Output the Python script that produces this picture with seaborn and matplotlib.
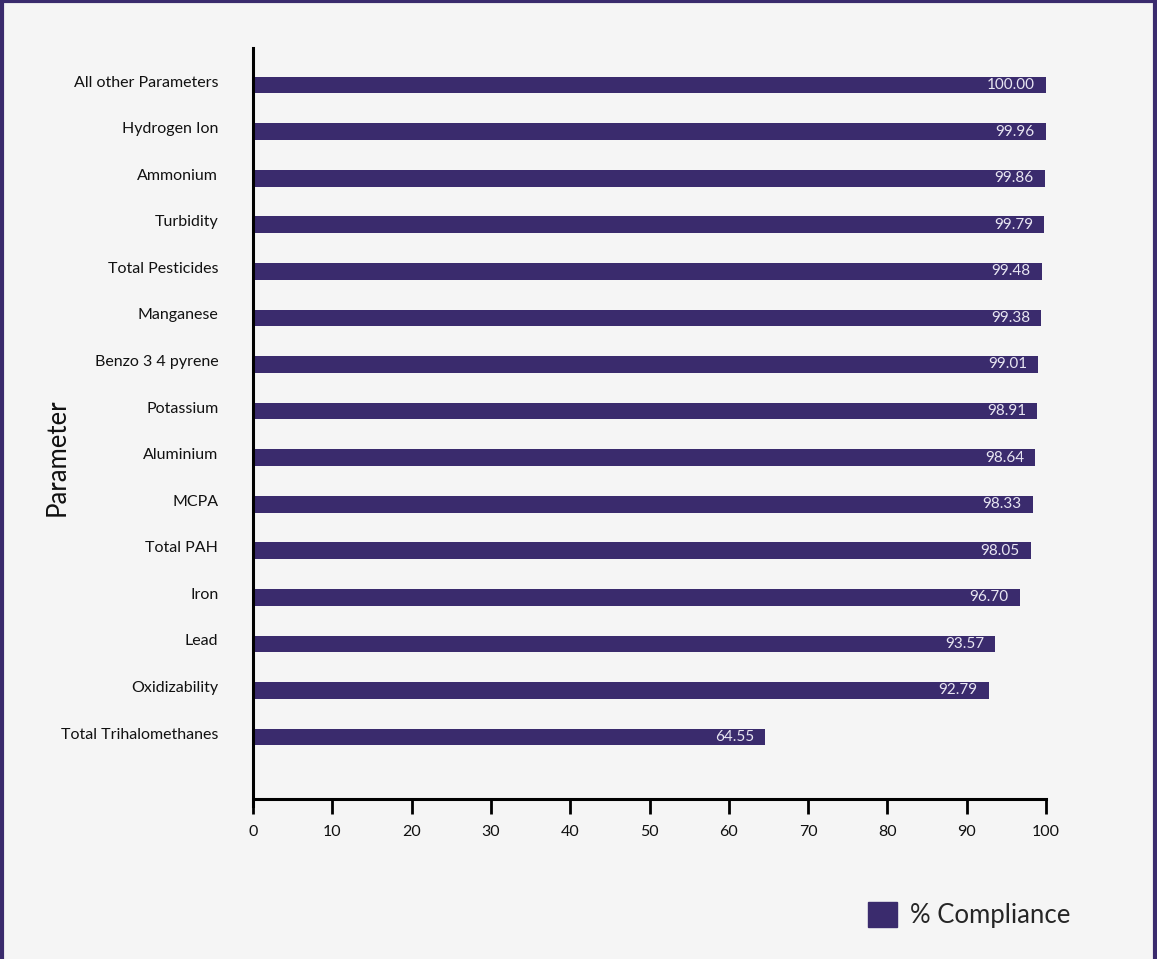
import matplotlib
matplotlib.use("Agg")
import matplotlib.pyplot as plt
import matplotlib.transforms as mtransforms
from matplotlib.patches import Patch
from matplotlib.lines import Line2D
import seaborn as sns
import pandas as pd

parameters = ["All other Parameters", "Hydrogen Ion", "Ammonium", "Turbidity",
              "Total Pesticides", "Manganese", "Benzo 3 4 pyrene", "Potassium",
              "Aluminium", "MCPA", "Total PAH", "Iron", "Lead", "Oxidizability",
              "Total Trihalomethanes"]
compliance = [100.00, 99.96, 99.86, 99.79, 99.48, 99.38, 99.01, 98.91,
              98.64, 98.33, 98.05, 96.70, 93.57, 92.79, 64.55]
x_ticks = [0, 10, 20, 30, 40, 50, 60, 70, 80, 90, 100]

BAR = "#3a2b6d"
BG = "#f5f5f5"

sns.set_theme(style="white")
plt.rcParams["font.family"] = ["Lato", "DejaVu Sans"]

df = pd.DataFrame({"Parameter": parameters, "Compliance": compliance})

fig = plt.figure(figsize=(11.57, 9.59), dpi=100, facecolor=BG)
ax = fig.add_axes([253/1157, 1 - 806/959, 793/1157, (806 - 48)/959])
ax.set_facecolor(BG)

sns.barplot(data=df, y="Parameter", x="Compliance", orient="h", color=BAR,
            width=0.36, saturation=1, linewidth=0, ax=ax)

ax.set_xlim(0, 100)
ax.set_ylim(15.48, -0.795)
ax.set_xticks(x_ticks)
ax.set_xticklabels([str(t) for t in x_ticks])

for s in ["top", "right"]:
    ax.spines[s].set_visible(False)
for s in ["left", "bottom"]:
    ax.spines[s].set_color("black")
    ax.spines[s].set_linewidth(2.2)
ax.spines["bottom"].set_position(("outward", -5))
ax.spines["bottom"].set_bounds(0.3, 100)

ax.tick_params(axis="x", direction="out", length=11, width=2, color="black",
               pad=8, labelsize=11.5, labelcolor="#111111", bottom=True)
ax.tick_params(axis="y", length=0, pad=25, labelsize=11.5, labelcolor="#111111")

offset = mtransforms.ScaledTranslation(0, 4/100, fig.dpi_scale_trans)
for lab in ax.get_yticklabels():
    lab.set_transform(lab.get_transform() + offset)

ax.set_xlabel("")
ax.set_ylabel("Parameter", fontsize=18.5, color="#111111")
ax.yaxis.set_label_coords(-0.231, 0.46)

for i, v in enumerate(compliance):
    ax.annotate(f"{v:.2f}", xy=(v, i), xytext=(-8, 0), textcoords="offset points",
                ha="right", va="center", color="#e8e6f2", fontsize=11)

handle = Patch(facecolor=BAR, edgecolor=BAR)
fig.legend([handle], ["% Compliance"], loc="center left",
           bbox_to_anchor=(868/1157, 1 - 915/959), frameon=False, fontsize=18.5,
           borderaxespad=0, borderpad=0,
           handlelength=1.13, handleheight=1.13, handletextpad=0.5)

# decorative frame on left, top, right
lw = 3
fig.add_artist(Line2D([0.0015, 0.0015], [0, 1], transform=fig.transFigure, color=BAR, lw=lw))
fig.add_artist(Line2D([0.9985, 0.9985], [0, 1], transform=fig.transFigure, color=BAR, lw=lw))
fig.add_artist(Line2D([0, 1], [0.9985, 0.9985], transform=fig.transFigure, color=BAR, lw=lw))

fig.savefig("out.png", dpi=100, facecolor=BG)
